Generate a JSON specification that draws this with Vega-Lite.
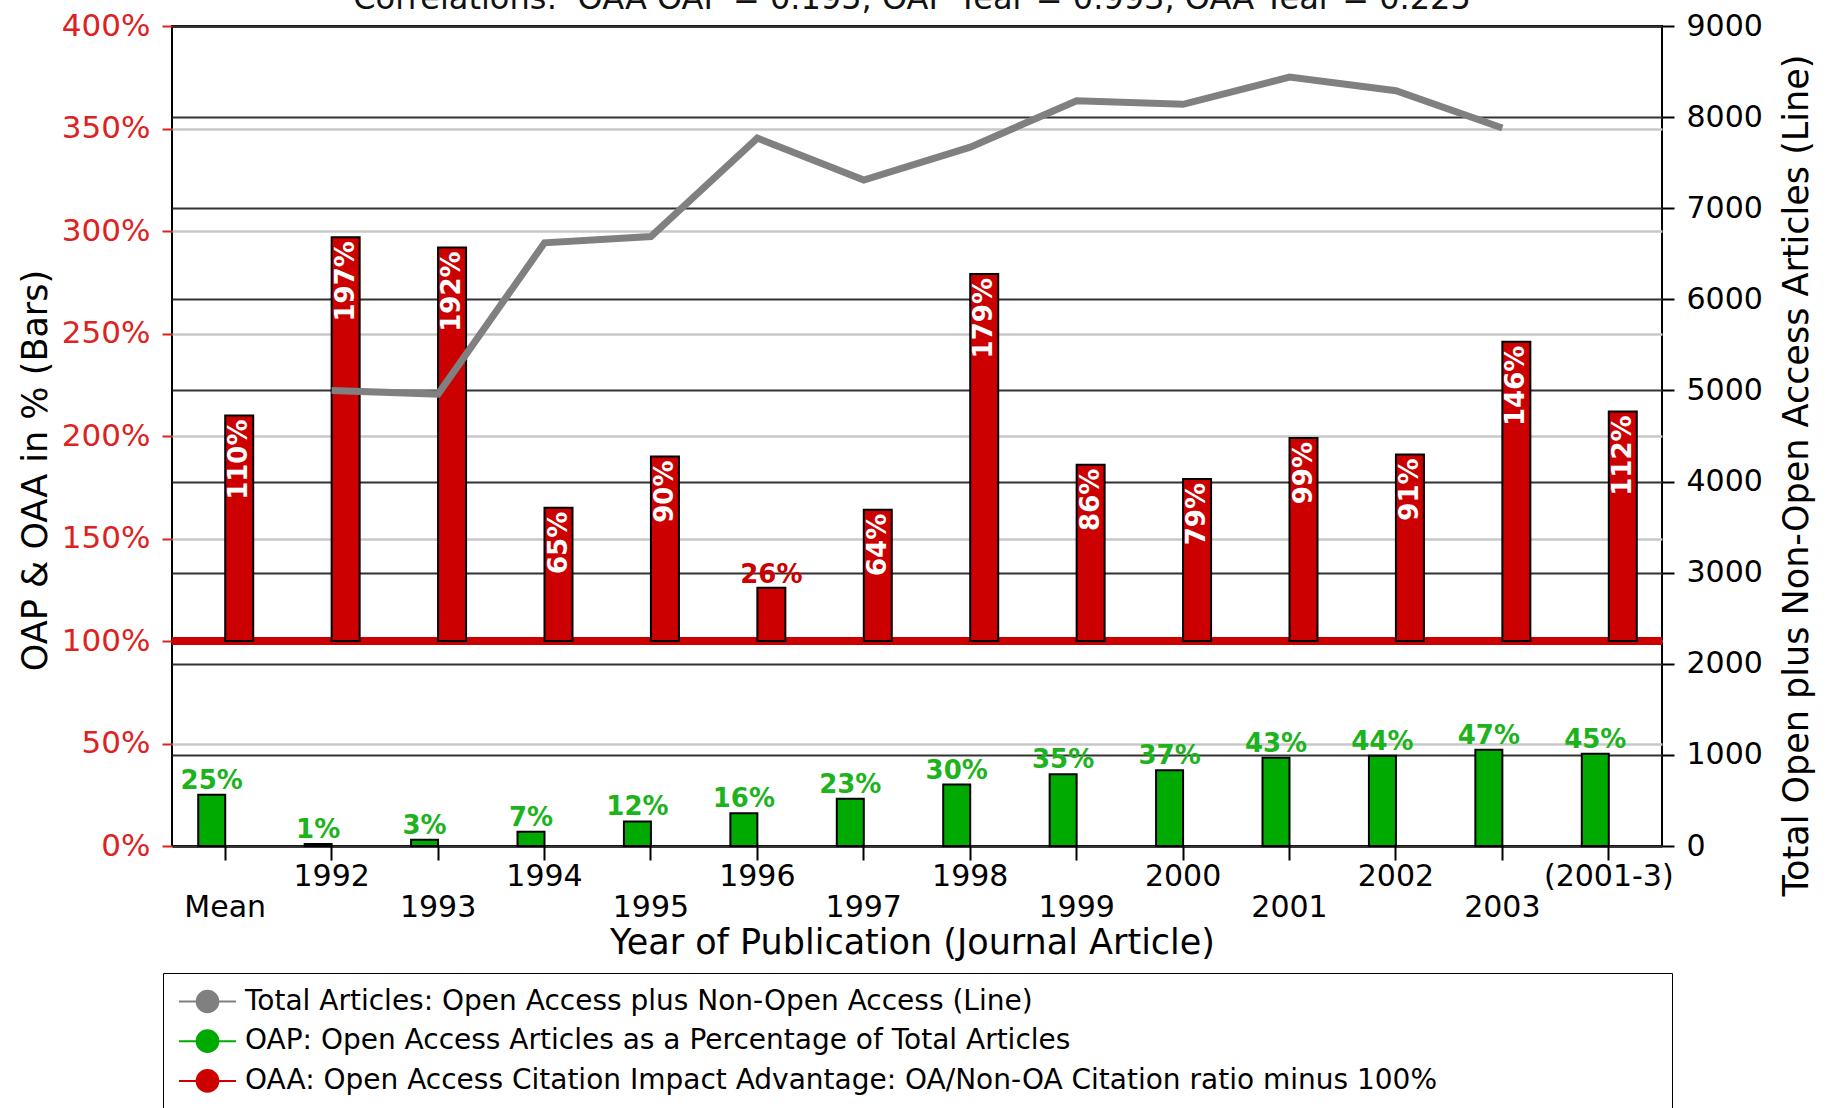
{
  "$schema": "https://vega.github.io/schema/vega-lite/v6.json",
  "width": 1490,
  "height": 820,
  "autosize": {"type": "none"},
  "padding": {"left": 172, "top": 26, "right": 173, "bottom": 262},
  "background": "white",
  "title": {
    "text": "Correlations:\u00a0 OAA OAP = 0.195, OAP Year = 0.993, OAA Year = 0.225",
    "fontSize": 32,
    "fontWeight": "normal",
    "color": "#111111",
    "anchor": "middle",
    "frame": "group",
    "baseline": "alphabetic",
    "offset": -31,
    "dx": -5
  },
  "data": {
    "values": [
      {"year": "Mean", "oap": 0.25, "oaa": 1.10, "ratio": 2.10, "total": null},
      {"year": "1992", "oap": 0.01, "oaa": 1.97, "ratio": 2.97, "total": 5000},
      {"year": "1993", "oap": 0.03, "oaa": 1.92, "ratio": 2.92, "total": 4960},
      {"year": "1994", "oap": 0.07, "oaa": 0.65, "ratio": 1.65, "total": 6620},
      {"year": "1995", "oap": 0.12, "oaa": 0.90, "ratio": 1.90, "total": 6690},
      {"year": "1996", "oap": 0.16, "oaa": 0.26, "ratio": 1.26, "total": 7770},
      {"year": "1997", "oap": 0.23, "oaa": 0.64, "ratio": 1.64, "total": 7310},
      {"year": "1998", "oap": 0.30, "oaa": 1.79, "ratio": 2.79, "total": 7670},
      {"year": "1999", "oap": 0.35, "oaa": 0.86, "ratio": 1.86, "total": 8180},
      {"year": "2000", "oap": 0.37, "oaa": 0.79, "ratio": 1.79, "total": 8140},
      {"year": "2001", "oap": 0.43, "oaa": 0.99, "ratio": 1.99, "total": 8440},
      {"year": "2002", "oap": 0.44, "oaa": 0.91, "ratio": 1.91, "total": 8290},
      {"year": "2003", "oap": 0.47, "oaa": 1.46, "ratio": 2.46, "total": 7880},
      {"year": "(2001-3)", "oap": 0.45, "oaa": 1.12, "ratio": 2.12, "total": null}
    ]
  },
  "layer": [
    {
      "layer": [
        {
          "mark": {"type": "rule", "color": "#cc0000", "strokeWidth": 7},
          "encoding": {
            "y": {
              "datum": 1, "type": "quantitative", "scale": {"domain": [0, 4], "nice": false},
              "axis": {"orient": "left", "values": [0, 0.5, 1, 1.5, 2, 2.5, 3, 3.5, 4], "format": ".0%", "title": "OAP & OAA in % (Bars)", "titleAngle": 270, "titleX": -137, "titleY": 444, "titleAlign": "center", "titleBaseline": "middle", "titleFontSize": 35, "titleFontWeight": "normal", "titleColor": "black", "labelColor": "#dd2222", "labelFontSize": 31, "labelPadding": 12, "tickColor": "#dd2222", "tickSize": 10, "tickWidth": 2, "domain": false, "grid": true, "gridColor": {"condition": {"test": "datum.value === 0 || datum.value === 4", "value": "black"}, "value": "#c8c8c8"}, "gridWidth": 2.5}
            }
          }
        },
        {
          "encoding": {
            "x": {
              "field": "year", "type": "nominal",
              "scale": {"domain": ["Mean", "1992", "1993", "1994", "1995", "1996", "1997", "1998", "1999", "2000", "2001", "2002", "2003", "(2001-3)"], "paddingInner": 0, "paddingOuter": 0},
              "axis": {"title": "Year of Publication (Journal Article)", "labelAngle": 0, "labelExpr": "indexof(['Mean','1993','1995','1997','1999','2001','2003'], datum.value) >= 0 ? [' ', datum.label] : datum.label", "labelBaseline": "top", "labelLineHeight": 31, "labelPadding": 1, "labelFontSize": 30, "labelColor": "black", "labelOverlap": false, "tickColor": "black", "tickSize": 14, "tickWidth": 2, "domain": false, "grid": false, "titleFontSize": 35, "titleFontWeight": "normal", "titleColor": "black", "titleX": 740, "titleY": 96, "titleAlign": "center", "titleBaseline": "middle"}
            }
          },
          "layer": [
            {
              "mark": {"type": "bar", "width": 27, "xOffset": -13.5, "stroke": "black", "strokeWidth": 2},
              "encoding": {
                "y": {
                  "field": "oap", "type": "quantitative", "scale": {"domain": [0, 4], "nice": false},
                  "axis": {"orient": "left", "values": [0, 0.5, 1, 1.5, 2, 2.5, 3, 3.5, 4], "format": ".0%", "title": "OAP & OAA in % (Bars)", "titleAngle": 270, "titleX": -137, "titleY": 444, "titleAlign": "center", "titleBaseline": "middle", "titleFontSize": 35, "titleFontWeight": "normal", "titleColor": "black", "labelColor": "#dd2222", "labelFontSize": 31, "labelPadding": 12, "tickColor": "#dd2222", "tickSize": 10, "tickWidth": 2, "domain": false, "grid": true, "gridColor": {"condition": {"test": "datum.value === 0 || datum.value === 4", "value": "black"}, "value": "#c8c8c8"}, "gridWidth": 2.5}
                },
                "color": {
                  "datum": "OAP: Open Access Articles as a Percentage of Total Articles",
                  "type": "nominal",
                  "scale": {
                    "domain": [
                      "Total Articles: Open Access plus Non-Open Access (Line)",
                      "OAP: Open Access Articles as a Percentage of Total Articles",
                      "OAA: Open Access Citation Impact Advantage: OA/Non-OA Citation ratio minus 100%"
                    ],
                    "range": ["#808080", "#00aa00", "#cc0000"]
                  },
                  "legend": {
                    "orient": "none",
                    "legendX": -9,
                    "legendY": 947,
                    "title": ".",
                    "titleOrient": "right",
                    "titleFontSize": 2,
                    "titleColor": "white",
                    "titlePadding": 219,
                    "symbolType": "M-1,0H1M0.38,0A0.38,0.38,0,1,1,-0.38,0A0.38,0.38,0,1,1,0.38,0Z",
                    "symbolSize": 3249,
                    "symbolStrokeWidth": 2,
                    "clipHeight": 27,
                    "labelFontSize": 28,
                    "labelOffset": 8,
                    "labelLimit": 2000,
                    "rowPadding": 10.7,
                    "padding": 15,
                    "strokeColor": "black",
                    "encode": {
                      "legend": {"update": {"strokeWidth": {"value": 2}}},
                      "symbols": {
                        "update": {
                          "fill": {"scale": "color", "field": "value"},
                          "stroke": {"scale": "color", "field": "value"},
                          "opacity": {"value": 1},
                          "fillOpacity": {"value": 1}
                        }
                      },
                      "labels": {"update": {"fill": {"signal": "datum.value === 'Total Articles: Open Access plus Non-Open Access (Line)' ? '#9a9a9a' : scale('color', datum.value)"}}}
                    }
                  }
                }
              }
            },
            {
              "mark": {"type": "bar", "width": 28, "xOffset": 14, "stroke": "black", "strokeWidth": 2},
              "encoding": {
                "y": {
                  "field": "ratio", "type": "quantitative", "scale": {"domain": [0, 4], "nice": false},
                  "axis": {"orient": "left", "values": [0, 0.5, 1, 1.5, 2, 2.5, 3, 3.5, 4], "format": ".0%", "title": "OAP & OAA in % (Bars)", "titleAngle": 270, "titleX": -137, "titleY": 444, "titleAlign": "center", "titleBaseline": "middle", "titleFontSize": 35, "titleFontWeight": "normal", "titleColor": "black", "labelColor": "#dd2222", "labelFontSize": 31, "labelPadding": 12, "tickColor": "#dd2222", "tickSize": 10, "tickWidth": 2, "domain": false, "grid": true, "gridColor": {"condition": {"test": "datum.value === 0 || datum.value === 4", "value": "black"}, "value": "#c8c8c8"}, "gridWidth": 2.5}
                },
                "y2": {"datum": 1},
                "color": {
                  "datum": "OAA: Open Access Citation Impact Advantage: OA/Non-OA Citation ratio minus 100%",
                  "type": "nominal",
                  "legend": null
                }
              }
            },
            {
              "mark": {"type": "text", "xOffset": -13.5, "dy": -6, "baseline": "alphabetic", "align": "center", "fontWeight": "bold", "fontSize": 26, "color": "#1db31d"},
              "encoding": {
                "y": {
                  "field": "oap", "type": "quantitative", "scale": {"domain": [0, 4], "nice": false},
                  "axis": {"orient": "left", "values": [0, 0.5, 1, 1.5, 2, 2.5, 3, 3.5, 4], "format": ".0%", "title": "OAP & OAA in % (Bars)", "titleAngle": 270, "titleX": -137, "titleY": 444, "titleAlign": "center", "titleBaseline": "middle", "titleFontSize": 35, "titleFontWeight": "normal", "titleColor": "black", "labelColor": "#dd2222", "labelFontSize": 31, "labelPadding": 12, "tickColor": "#dd2222", "tickSize": 10, "tickWidth": 2, "domain": false, "grid": true, "gridColor": {"condition": {"test": "datum.value === 0 || datum.value === 4", "value": "black"}, "value": "#c8c8c8"}, "gridWidth": 2.5}
                },
                "text": {"field": "oap", "type": "quantitative", "format": ".0%"}
              }
            },
            {
              "transform": [{"filter": "datum.oaa >= 0.5"}],
              "mark": {"type": "text", "xOffset": 14, "dx": -4, "angle": 270, "baseline": "middle", "align": "right", "fontWeight": "bold", "fontSize": 26, "color": "white"},
              "encoding": {
                "y": {
                  "field": "ratio", "type": "quantitative", "scale": {"domain": [0, 4], "nice": false},
                  "axis": {"orient": "left", "values": [0, 0.5, 1, 1.5, 2, 2.5, 3, 3.5, 4], "format": ".0%", "title": "OAP & OAA in % (Bars)", "titleAngle": 270, "titleX": -137, "titleY": 444, "titleAlign": "center", "titleBaseline": "middle", "titleFontSize": 35, "titleFontWeight": "normal", "titleColor": "black", "labelColor": "#dd2222", "labelFontSize": 31, "labelPadding": 12, "tickColor": "#dd2222", "tickSize": 10, "tickWidth": 2, "domain": false, "grid": true, "gridColor": {"condition": {"test": "datum.value === 0 || datum.value === 4", "value": "black"}, "value": "#c8c8c8"}, "gridWidth": 2.5}
                },
                "text": {"field": "oaa", "type": "quantitative", "format": ".0%"}
              }
            },
            {
              "transform": [{"filter": "datum.oaa < 0.5"}],
              "mark": {"type": "text", "xOffset": 14, "dy": -5, "baseline": "alphabetic", "align": "center", "fontWeight": "bold", "fontSize": 26, "color": "#cc0000"},
              "encoding": {
                "y": {
                  "field": "ratio", "type": "quantitative", "scale": {"domain": [0, 4], "nice": false},
                  "axis": {"orient": "left", "values": [0, 0.5, 1, 1.5, 2, 2.5, 3, 3.5, 4], "format": ".0%", "title": "OAP & OAA in % (Bars)", "titleAngle": 270, "titleX": -137, "titleY": 444, "titleAlign": "center", "titleBaseline": "middle", "titleFontSize": 35, "titleFontWeight": "normal", "titleColor": "black", "labelColor": "#dd2222", "labelFontSize": 31, "labelPadding": 12, "tickColor": "#dd2222", "tickSize": 10, "tickWidth": 2, "domain": false, "grid": true, "gridColor": {"condition": {"test": "datum.value === 0 || datum.value === 4", "value": "black"}, "value": "#c8c8c8"}, "gridWidth": 2.5}
                },
                "text": {"field": "oaa", "type": "quantitative", "format": ".0%"}
              }
            }
          ]
        }
      ]
    },
    {
      "mark": {"type": "line", "strokeWidth": 7},
      "encoding": {
        "x": {
          "field": "year", "type": "nominal",
          "scale": {"domain": ["Mean", "1992", "1993", "1994", "1995", "1996", "1997", "1998", "1999", "2000", "2001", "2002", "2003", "(2001-3)"], "paddingInner": 0, "paddingOuter": 0},
          "axis": {"title": "Year of Publication (Journal Article)", "labelAngle": 0, "labelExpr": "indexof(['Mean','1993','1995','1997','1999','2001','2003'], datum.value) >= 0 ? [' ', datum.label] : datum.label", "labelBaseline": "top", "labelLineHeight": 31, "labelPadding": 1, "labelFontSize": 30, "labelColor": "black", "labelOverlap": false, "tickColor": "black", "tickSize": 14, "tickWidth": 2, "domain": false, "grid": false, "titleFontSize": 35, "titleFontWeight": "normal", "titleColor": "black", "titleX": 740, "titleY": 96, "titleAlign": "center", "titleBaseline": "middle"}
        },
        "y": {
          "field": "total",
          "type": "quantitative",
          "scale": {"domain": [0, 9000], "nice": false},
          "axis": {"orient": "right", "values": [0, 1000, 2000, 3000, 4000, 5000, 6000, 7000, 8000, 9000], "format": "d", "title": "Total Open plus Non-Open Access Articles (Line)", "titleAngle": 270, "titleX": 134, "titleY": 449, "titleAlign": "center", "titleBaseline": "middle", "titleFontSize": 35, "titleFontWeight": "normal", "titleColor": "black", "labelColor": "black", "labelFontSize": 30, "labelPadding": 12, "tickColor": "black", "tickSize": 12, "tickWidth": 2, "domain": false, "grid": true, "gridColor": "#333333", "gridWidth": 2}
        },
        "color": {
          "datum": "Total Articles: Open Access plus Non-Open Access (Line)",
          "type": "nominal",
          "legend": null
        }
      }
    }
  ],
  "resolve": {"scale": {"y": "independent"}},
  "config": {
    "font": "DejaVu Sans",
    "view": {"stroke": "black", "strokeWidth": 2}
  }
}
